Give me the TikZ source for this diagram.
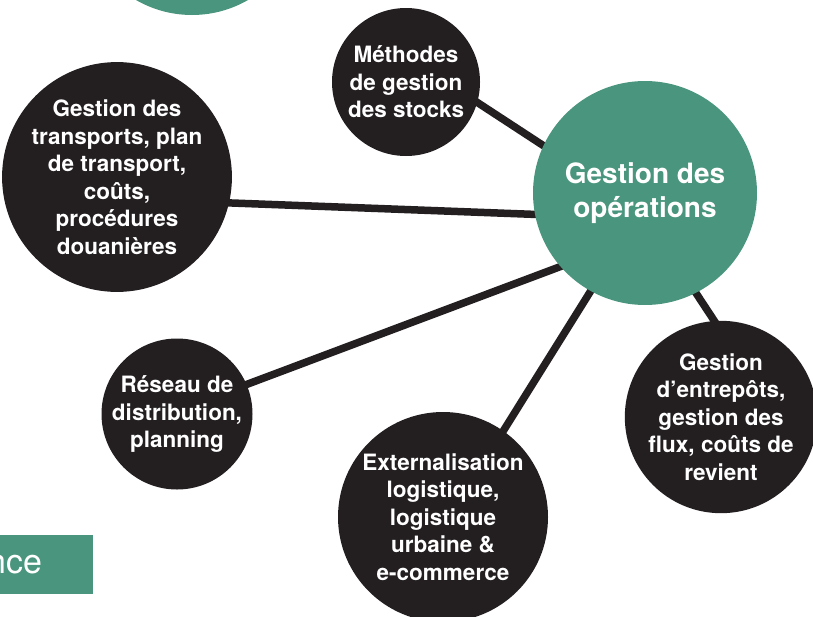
\documentclass[tikz,border=0pt]{standalone}
\usepackage{fontspec}
\setmainfont{TeX Gyre Heros}
\usetikzlibrary{backgrounds}
\definecolor{opgreen}{HTML}{4A957D}
\definecolor{opblack}{HTML}{231F20}
\begin{document}
\begin{tikzpicture}[x=1pt,y=-1pt,
  topic/.style={circle,fill=opblack,text=white,inner sep=0pt,align=center,
    font=\bfseries\fontsize{22.5}{27.5}\selectfont},
  hub/.style={circle,fill=opgreen,text=white,inner sep=0pt,align=center,
    font=\bfseries\fontsize{28}{34}\selectfont},
  link/.style={draw=opblack,line width=7.5pt,shorten <=-5pt,shorten >=-5pt}]
\useasboundingbox (0,0) rectangle (813,616);
\clip (0,0) rectangle (813,616);
% partial elements at the edges
\node[hub,minimum size=224pt] (topc) at (192,-97) {};
\node[fill=opgreen,minimum width=200pt,minimum height=59pt,inner sep=0pt,anchor=east] (side) at (93,564.5) {};
\node[text=white,anchor=base east,inner sep=0pt,font=\fontsize{34}{34}\selectfont] (sidetext) at (43,573) {nce};
% hub
\node[hub,minimum size=224pt] (ops) at (645,193) {Gestion des\\op\'erations\rule[-2pt]{0pt}{1pt}};
% topics
\node[topic,minimum size=148pt] (meth) at (406,82) {M\'ethodes\\de gestion\\des stocks};
\node[topic,minimum size=218pt] (trans) at (117,177) {Gestion des\\transports, plan\\de transport,\\co\^uts,\\proc\'edures\\douani\`eres};
\node[topic,minimum size=151pt] (res) at (177,414) {R\'eseau de\\distribution,\\planning};
\node[topic,minimum size=210pt] (ext) at (443,517) {Externalisation\\logistique,\\logistique\\urbaine \&\\e-commerce};
\node[topic,minimum size=178pt] (entr) at (721,417) {Gestion\\d’entrep\^ots,\\gestion des\\flux, co\^uts de\\revient};
% connectors
\begin{pgfonlayer}{background}
\draw[link] (meth.-16.5) -- (ops.155.7);
\draw[link] (trans.-13.8) -- (ops.191.3);
\draw[link] (res.23.2) -- (ops.221);
\draw[link] (ext.55.3) -- (ops.241.6);
\draw[link] (entr.94) -- (ops.297.5);
\end{pgfonlayer}
\end{tikzpicture}
\end{document}
